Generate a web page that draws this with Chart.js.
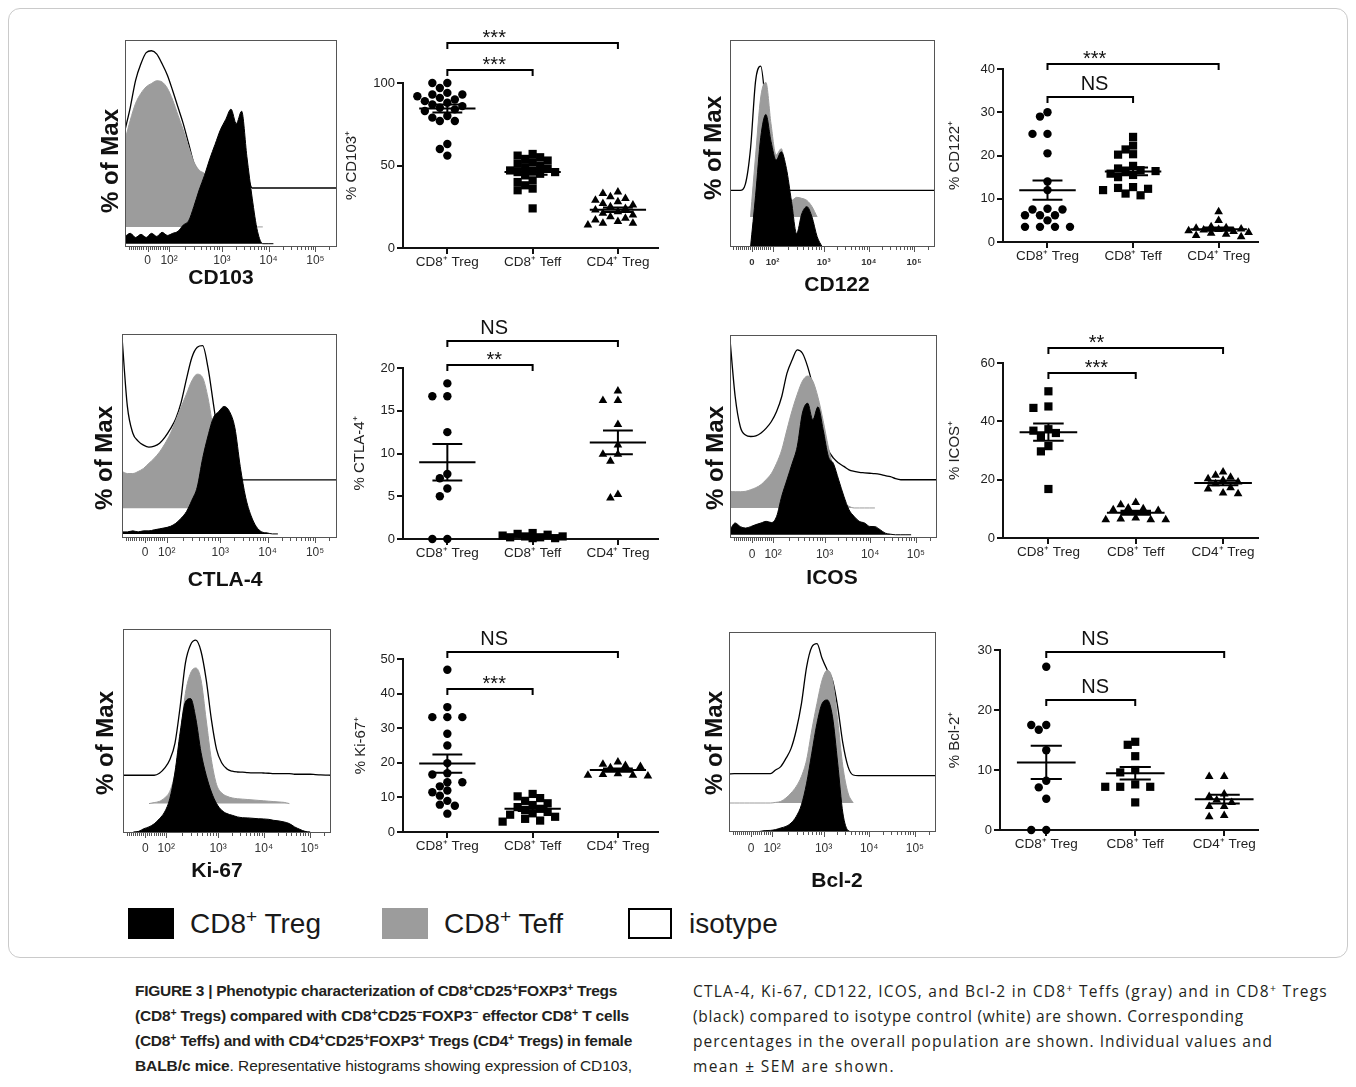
<!DOCTYPE html>
<html>
<head>
<meta charset="utf-8">
<script src="https://cdn.jsdelivr.net/npm/chart.js@4.4.1/dist/chart.umd.min.js"></script>
<style>
  body { margin: 0; width: 1356px; height: 1087px; position: relative; overflow: hidden; background: #fff;
         font-family: "Liberation Sans", Arial, sans-serif; color: #1a1a1a; }
  #frame { position: absolute; left: 8px; top: 8px; width: 1338px; height: 948px; border: 1px solid #cacaca; border-radius: 12px; }
  canvas { position: absolute; }
  .sw { position: absolute; top: 908px; width: 46px; height: 31px; box-sizing: border-box; }
  .leg { position: absolute; top: 906px; font-size: 28px; line-height: 36px; white-space: nowrap; }
  .cap { position: absolute; font-family: "Open Sans", sans-serif; font-size: 15.5px; line-height: 20px; white-space: nowrap; color: #231f20; }
  .cap.lib { font-family: "Liberation Sans", Arial, sans-serif; }
  .b, .cap b { font-family: "Liberation Sans", Arial, sans-serif; font-weight: bold; }
  sup { font-size: 0.68em; line-height: 0; vertical-align: 0.5em; }
</style>
</head>
<body>
<div id="frame"></div>

<div class="sw" style="left:128px;background:#000"></div>
<div class="leg" style="left:190px">CD8<sup>+</sup> Treg</div>
<div class="sw" style="left:382px;background:#9c9c9c"></div>
<div class="leg" style="left:444px">CD8<sup>+</sup> Teff</div>
<div class="sw" style="left:628px;width:44px;border:2px solid #000;background:#fff"></div>
<div class="leg" style="left:689px">isotype</div>

<div class="cap b" style="left:135px;top:981px" data-w="482">FIGURE 3 | Phenotypic characterization of CD8<sup>+</sup>CD25<sup>+</sup>FOXP3<sup>+</sup> Tregs</div>
<div class="cap b" style="left:135px;top:1006px" data-w="494">(CD8<sup>+</sup> Tregs) compared with CD8<sup>+</sup>CD25<sup>−</sup>FOXP3<sup>−</sup> effector CD8<sup>+</sup> T cells</div>
<div class="cap b" style="left:135px;top:1031px" data-w="497">(CD8<sup>+</sup> Teffs) and with CD4<sup>+</sup>CD25<sup>+</sup>FOXP3<sup>+</sup> Tregs (CD4<sup>+</sup> Tregs) in female</div>
<div class="cap lib" style="left:135px;top:1056px" data-w="497"><b>BALB/c mice</b>. Representative histograms showing expression of CD103,</div>
<div class="cap" style="left:693px;top:981px" data-w="635">CTLA-4, Ki-67, CD122, ICOS, and Bcl-2 in CD8<sup>+</sup> Teffs (gray) and in CD8<sup>+</sup> Tregs</div>
<div class="cap" style="left:693px;top:1006px" data-w="551">(black) compared to isotype control (white) are shown. Corresponding</div>
<div class="cap" style="left:693px;top:1031px" data-w="580">percentages in the overall population are shown. Individual values and</div>
<div class="cap" style="left:693px;top:1056px" data-w="202">mean ± SEM are shown.</div>

<script>
// ---- histogram data: height above each curve's own baseline, % of plot height,
// sampled on a fixed channel grid (0..1000 across the plot frame)
const channels = [0, 25, 50, 75, 100, 125, 150, 175, 200, 225, 250, 275, 300, 325, 350, 375, 400, 425, 450, 475,
  500, 525, 550, 575, 600, 625, 650, 675, 700, 725, 750, 775, 800, 825, 850, 875, 900, 925, 950, 975, 1000];
const decadeTicks = [107, 208, 457, 677, 898];
const decadeLabels = ['0', '10²', '10³', '10⁴', '10⁵'];

const cd103HistIso = [28, 39, 52, 60, 65.4, 66.3, 64.7, 60, 54.5, 47, 39, 31, 21.5, 12, 7.8, 6.5, 6, 6, 6, 6, 6, 6, 6, 5.5, 0,
  0, 0, 0, 0, 0, 0, 0, 0, 0, 0, 0, 0, 0, 0, 0, 0];
const cd103HistTeff = [42, 51.6, 59.7, 64.5, 67.7, 69.3, 70.6, 70, 67, 61.3, 54, 46.8, 38.7, 31.4, 27.4, 25.8, 22.6, 19.4,
  14.5, 9.7, 4.8, 1.6, 0, 0, 0, 0, 0];
const cd103HistTreg = [3.5, 5, 3, 4.5, 3, 5, 3.5, 5.5, 4, 5, 6, 9, 11, 18, 26, 33, 41, 48, 55, 60, 65, 58, 64, 42, 22, 6, 0, 0, 0];

const cd122HistIso = [0, 0, 0, 3, 20, 53, 60, 40, 18, 5, 0, 0, 0, 0, 0, 0, 0, 0, 0, 0, 0, 0, 0, 0, 0, 0, 0, 0, 0, 0, 0, 0,
  0, 0, 0, 0, 0, 0, 0, 0, 0];
const cd122HistTeff = [null, null, null, null, 0, 30, 58, 65, 45, 30, 33, 20, 8, 9.5, 9, 8, 5, 0];
const cd122HistTreg = [null, null, null, null, 0, 25, 53, 64, 51, 42, 46, 38, 22, 6.5, 16, 19.5, 14.5, 5, 0];

const ctla4HistIso = [70, 36, 23, 19, 17, 16, 16.5, 18, 21, 25, 30, 38, 49.5, 60, 65, 65.8, 55, 37.4, 19.5, 3.2, 0.8,
  0, 0, 0, 0, 0, 0, 0, 0, 0, 0, 0, 0, 0, 0, 0, 0, 0, 0, 0, 0];
const ctla4HistTeff = [18, 17, 17, 18, 19.5, 22, 24.5, 27.6, 31.7, 36.6, 43, 49.6, 56, 62.5, 65.7, 64, 54, 38, 21.5, 8.5, 0];
const ctla4HistTreg = [1, 1, 1.5, 1, 1.5, 1.5, 2, 2.5, 3, 3.7, 5.2, 7.7, 11, 16.5, 23, 37, 48, 57, 60, 62.5, 60, 52, 33,
  18, 9, 3.5, 1, 0.5, 0, 0];

const icosHistIso = [69, 41, 26, 22, 21.3, 21.6, 23, 25.4, 28.7, 33.6, 41, 52.4, 59, 64, 62.3, 55.7, 46, 34.4, 23, 14.7,
  10.6, 8.2, 6.6, 4.9, 4.1, 3.6, 3.4, 3.2, 3, 2.6, 2, 1.5, 0.5, 0, 0, 0, 0, 0, 0, 0, 0];
const icosHistTeff = [8.2, 8, 8, 8.2, 9, 10, 11.5, 14, 17, 22, 28.6, 38.5, 48, 56, 62.5, 65, 62.5, 54.5, 43, 30, 19, 7.4,
  2.5, 0.8, 0, 0, 0, 0, 0];
const icosHistTreg = [2.5, 5.8, 4, 3.3, 4, 5, 5.8, 6.6, 6, 9, 19, 27, 35, 43.5, 60, 64.8, 56.6, 63, 51.7, 38.6, 35, 27, 19,
  12.3, 9, 6.6, 5.8, 4.1, 4, 2.5, 0.8, 0.3, 0, 0, 0, 0];

const ki67HistIso = [0, 0, 0, 0, 0, 0, 0, 1, 3.5, 7.6, 15.8, 33.8, 55, 64, 66.2, 60.8, 46.9, 27.3, 12.6, 6, 3.1, 2, 1.6,
  1.5, 1.3, 1.2, 1.2, 1.1, 1, 0.8, 0.8, 0.8, 0.8, 0.5, 0.5, 0.5, 0.5, 0.3, 0.2, 0.1, 0];
const ki67HistTeff = [null, null, null, null, null, 0, 0.5, 1.1, 2.8, 6, 15, 33, 54, 64, 66.5, 60.7, 41, 21.5, 9.3, 5.2,
  3.6, 2.8, 2.4, 2.2, 2, 1.8, 1.6, 1.4, 1.2, 1, 0.8, 0.6, 0];
const ki67HistTreg = [null, null, 0, 0.3, 1.6, 2.5, 4, 6.5, 9.8, 16.3, 29.4, 49, 63.7, 65.4, 55.6, 39, 27.8, 19.6, 13.9,
  10.6, 9, 8.2, 7.4, 7, 6.9, 6.7, 6.5, 6.4, 6.2, 5.7, 5.4, 4.9, 4.1, 2.5, 1.3, 0.3, 0];

const bcl2HistIso = [0.8, 1, 1, 1, 1, 1, 1, 1, 1, 2.8, 4.5, 8.6, 13.6, 22.8, 36, 54.4, 64.3, 66, 58.5, 52.7, 47.7, 34.4,
  16.2, 4.5, 0.3, 0, 0, 0, 0, 0, 0, 0, 0, 0, 0, 0, 0, 0, 0, 0, 0];
const bcl2HistTeff = [0, 0, 0, 0, 0, 0, 0, 0, 0, 0.3, 0.8, 2.5, 5, 8.3, 13.3, 21.6, 36.5, 49.8, 61.5, 66.4, 61.5, 41.5,
  18.3, 5, 0];
const bcl2HistTreg = [null, null, null, null, null, 0, 0.3, 0.7, 0.8, 1.2, 2, 2.8, 4.5, 7.8, 13.6, 24.4, 39.4, 54.3, 64.3,
  66, 57.6, 34.4, 9.5, 0.8, 0];

// ---- percentage data (individual animals)
const groupLabels = ['CD8⁺ Treg', 'CD8⁺ Teff', 'CD4⁺ Treg'];

const cd103Treg = [100, 100, 97, 94, 93, 93, 92, 91, 90, 89, 88, 87, 86, 85, 84, 83, 80, 79, 77, 77, 63, 60, 56];
const cd103Teff = [57, 56, 55, 54, 53, 52, 51, 50, 49, 48, 47, 47, 46, 46, 45, 44, 41, 40, 38, 36, 35, 24];
const cd103CD4 = [34, 33, 31, 30, 29, 28, 27, 26, 25, 24, 23, 22, 21, 20, 19, 18, 17, 16, 15, 15, 14];

const cd122Treg = [30, 29, 25, 25, 20.5, 14, 12, 7.5, 7.5, 7.7, 6.2, 6.2, 6.2, 5, 3.5, 3.5, 3.5, 3.5];
const cd122Teff = [24.3, 22.3, 21.4, 20.3, 20.2, 17.6, 17.0, 16.6, 16.4, 16.2, 15.8, 15.5, 15.0, 12.7, 12.5, 12.3, 12.0, 11.2, 10.8];
const cd122CD4 = [7.0, 5.0, 3.5, 3.3, 3.2, 3.0, 2.9, 2.8, 2.6, 2.4, 2.2, 2.0, 1.8, 1.5, 1.2];

const ctla4Treg = [18.2, 16.7, 16.7, 12.5, 7.6, 7.1, 5.9, 5.0, 0, 0];
const ctla4Teff = [0.7, 0.6, 0.5, 0.4, 0.3, 0.3, 0.2, 0.2, 0.1, 0.1];
const ctla4CD4 = [17.3, 16.2, 16.2, 13.4, 11.0, 9.9, 9.9, 9.1, 5.2, 4.8];

const icosTreg = [50.3, 45.1, 44.6, 37.3, 36.8, 36.0, 34.9, 31.5, 29.7, 16.8];
const icosTeff = [12.2, 11.4, 10.3, 10.0, 9.7, 9.4, 6.9, 6.3, 6.3, 6.3, 6.5];
const icosCD4 = [22.6, 21.5, 20.8, 20.3, 19.8, 19.2, 18.6, 17.2, 16.8, 15.4, 15.2];

const ki67Treg = [46.9, 36.1, 33.2, 33.2, 33.2, 28.4, 25, 19.9, 17, 16.6, 14.4, 14.4, 13.2, 12, 11.5, 10.5, 9, 7.9, 7.6, 5.3];
const ki67Teff = [11.0, 10.3, 9.8, 9.0, 8.3, 7.8, 7.2, 6.7, 6.3, 5.8, 5.4, 5.0, 4.4, 3.8, 3.3, 3.0];
const ki67CD4 = [20.2, 19.6, 19.2, 18.9, 18.6, 16.8, 16.4, 16.2, 16.6, 16.4];

const bcl2Treg = [27.2, 17.5, 17.5, 16.7, 13.3, 8.2, 7.1, 5.2, 0, 0];
const bcl2Teff = [14.7, 14.2, 12.3, 10.0, 9.6, 7.6, 7.2, 7.2, 7.2, 4.6];
const bcl2CD4 = [8.9, 8.9, 6.0, 5.6, 5.0, 4.6, 3.9, 3.9, 2.4, 2.2];

// ---- layout
const FONT = '"Liberation Sans", Arial, sans-serif';
Chart.defaults.font.family = FONT;

const histPanels = [
  { frame: [125, 40, 337, 247], title: 'CD103', titleAt: [221, 278], yTitleAt: [111.5, 161], tickPad: 6,
    base: [1.6, 9.7, 28.5], series: [cd103HistTreg, cd103HistTeff, cd103HistIso] },
  { frame: [730, 40, 935, 247], title: 'CD122', titleAt: [837, 285], yTitleAt: [714, 148], tickPad: 10, small: true,
    base: [0, 14.5, 27.4], series: [cd122HistTreg, cd122HistTeff, cd122HistIso] },
  { frame: [122, 334, 337, 538], title: 'CTLA-4', titleAt: [225, 580], yTitleAt: [105, 458], tickPad: 7,
    base: [2, 14.6, 28.5], series: [ctla4HistTreg, ctla4HistTeff, ctla4HistIso] },
  { frame: [730, 335, 937, 538], title: 'ICOS', titleAt: [832, 578], yTitleAt: [716, 458], tickPad: 9,
    base: [1.6, 14.8, 28.7], series: [icosHistTreg, icosHistTeff, icosHistIso] },
  { frame: [123, 629, 331, 833], title: 'Ki-67', titleAt: [217, 871], yTitleAt: [106.5, 743], tickPad: 8,
    base: [0.5, 14.4, 28.3], series: [ki67HistTreg, ki67HistTeff, ki67HistIso] },
  { frame: [729, 632, 936, 832], title: 'Bcl-2', titleAt: [837, 881], yTitleAt: [715, 743], tickPad: 9,
    base: [0, 14.5, 28.2], series: [bcl2HistTreg, bcl2HistTeff, bcl2HistIso] },
];

const scatterPanels = [
  { area: [403, 83, 658, 248], yMax: 100, yStep: 50, xMax: 2.47, yTitle: '% CD103⁺', titlePad: 8,
    shapes: ['circle', 'rect', 'triangle'], groups: [cd103Treg, cd103Teff, cd103CD4],
    brackets: [{ to: 1, y: 108, label: '***' }, { to: 2, y: 124, label: '***' }] },
  { area: [1003, 69, 1258, 242], yMax: 40, yStep: 10, xMax: 2.46, yTitle: '% CD122⁺', titlePad: 10.6,
    shapes: ['circle', 'rect', 'triangle'], groups: [cd122Treg, cd122Teff, cd122CD4],
    brackets: [{ to: 1, y: 33.6, label: 'NS' }, { to: 2, y: 41.1, label: '***' }] },
  { area: [403, 368, 658, 539], yMax: 20, yStep: 5, xMax: 2.47, yTitle: '% CTLA-4⁺', titlePad: 16,
    shapes: ['circle', 'rect', 'triangle'], groups: [ctla4Treg, ctla4Teff, ctla4CD4],
    brackets: [{ to: 1, y: 20.4, label: '**' }, { to: 2, y: 23.1, label: 'NS' }] },
  { area: [1003, 363, 1258, 538], yMax: 60, yStep: 20, xMax: 2.40, yTitle: '% ICOS⁺', titlePad: 10.6,
    shapes: ['rect', 'triangle', 'triangle'], groups: [icosTreg, icosTeff, icosCD4],
    brackets: [{ to: 1, y: 56.6, label: '***' }, { to: 2, y: 65.1, label: '**' }] },
  { area: [403, 659, 658, 832], yMax: 50, yStep: 10, xMax: 2.47, yTitle: '% Ki-67⁺', titlePad: 17,
    shapes: ['circle', 'rect', 'triangle'], groups: [ki67Treg, ki67Teff, ki67CD4],
    brackets: [{ to: 1, y: 41.3, label: '***' }, { to: 2, y: 52, label: 'NS' }] },
  { area: [1000, 650, 1258, 830], yMax: 30, yStep: 10, xMax: 2.38, yTitle: '% Bcl-2⁺', titlePad: 13.6,
    shapes: ['circle', 'rect', 'triangle'], groups: [bcl2Treg, bcl2Teff, bcl2CD4],
    brackets: [{ to: 1, y: 21.7, label: 'NS' }, { to: 2, y: 29.6, label: 'NS' }] },
];

// minor ticks of the flow axis: linear part around 0, then log decades
const minorTicks = [];
for (let k = 1; k < 10; k++) minorTicks.push(107 - 10 * k, 107 + 10 * k);
[[208, 457], [457, 677], [677, 898], [898, 1119]].forEach(([a, b]) => {
  for (let k = 2; k < 10; k++) {
    const c = a + (b - a) * Math.log10(k);
    if (c < 1000) minorTicks.push(c);
  }
});

function addCanvas(left, top, w, h) {
  const cv = document.createElement('canvas');
  cv.width = w;
  cv.height = h;
  cv.style.left = left + 'px';
  cv.style.top = top + 'px';
  document.body.appendChild(cv);
  return cv;
}

function histChart(p) {
  const [L, T, R, B] = p.frame;
  const ox = L - 45, oy = T - 10;
  const cv = addCanvas(ox, oy, R - L + 55, B - T + 70);
  const fills = ['#000', '#9c9c9c', null];
  const datasets = p.series.map((s, k) => ({
    data: s.map((v, i) => ({ x: channels[i], y: v == null ? null : v + p.base[k] })),
    borderColor: k === 1 ? '#9c9c9c' : '#000',
    borderWidth: k === 2 ? 1.3 : 1,
    backgroundColor: fills[k] || 'transparent',
    fill: k === 2 ? false : { value: p.base[k] },
    pointRadius: 0,
    cubicInterpolationMode: 'monotone',
    spanGaps: false,
  }));
  const decor = {
    id: 'histDecor',
    afterDraw(chart) {
      const { ctx, chartArea: a, scales: { x } } = chart;
      ctx.save();
      ctx.strokeStyle = '#555';
      ctx.lineWidth = 1;
      ctx.strokeRect(a.left + 0.5, a.top + 0.5, a.right - a.left - 1, a.bottom - a.top - 1);
      ctx.beginPath();
      decadeTicks.forEach((v) => {
        const px = Math.round(x.getPixelForValue(v)) + 0.5;
        ctx.moveTo(px, a.bottom);
        ctx.lineTo(px, a.bottom + 5);
      });
      minorTicks.forEach((v) => {
        const px = Math.round(x.getPixelForValue(v)) + 0.5;
        ctx.moveTo(px, a.bottom);
        ctx.lineTo(px, a.bottom + 3);
      });
      ctx.stroke();
      ctx.fillStyle = '#111';
      ctx.textAlign = 'center';
      ctx.textBaseline = 'middle';
      ctx.font = 'bold 21px ' + FONT;
      ctx.fillText(p.title, p.titleAt[0] - ox, p.titleAt[1] - oy);
      ctx.translate(p.yTitleAt[0] - ox, p.yTitleAt[1] - oy);
      ctx.rotate(-Math.PI / 2);
      ctx.font = 'bold 24px ' + FONT;
      ctx.fillText('% of Max', 0, 0);
      ctx.restore();
    },
  };
  new Chart(cv, {
    type: 'line',
    data: { datasets },
    options: {
      responsive: false,
      animation: false,
      events: [],
      layout: { padding: { left: 45, top: 10, right: 10, bottom: 40 } },
      plugins: { legend: { display: false }, tooltip: { enabled: false } },
      scales: {
        x: {
          type: 'linear', min: 0, max: 1000,
          afterBuildTicks: (s) => { s.ticks = decadeTicks.map((v) => ({ value: v })); },
          afterFit: (s) => { s.height = 20; },
          grid: { display: false, drawTicks: false },
          border: { display: false },
          ticks: {
            callback: (v, i) => decadeLabels[i],
            font: p.small ? { size: 9.5, weight: 'bold' } : { size: 12 },
            color: '#333', padding: p.tickPad, maxRotation: 0, autoSkip: false,
          },
        },
        y: { display: false, min: 0, max: 100 },
      },
    },
    plugins: [decor],
  });
}

// spread points of similar value sideways, like a column scatter plot;
// the spread is capped, crowded points may overlap a little
function swarm(values, pxPerUnit) {
  const order = values.map((_, i) => i).sort((a, b) => values[b] - values[a]);
  const placed = [];
  const out = [];
  order.forEach((i) => {
    const py = values[i] * pxPerUnit;
    let best = 0, bestD = -1;
    for (let k = 0; k < 9; k++) {
      const px = (k % 2 ? -1 : 1) * Math.ceil(k / 2) * 7.5;
      const d = placed.reduce((m, q) => Math.min(m, Math.hypot(q.x - px, q.y - py)), Infinity);
      if (d >= 8) { best = px; break; }
      if (d > bestD) { bestD = d; best = px; }
    }
    placed.push({ x: best, y: py });
    out[i] = best;
  });
  return out;
}

const radius = { circle: 4.2, rect: 5.8, triangle: 5 };

function scatterChart(p) {
  const [L, T, R, B] = p.area;
  const ox = L - 68, oy = T - 75;
  const cv = addCanvas(ox, oy, R - L + 74, B - T + 107);
  const pxPerUnit = (B - T) / p.yMax;
  const pxPerCat = (R - L) / (p.xMax + 0.52);

  const meanBars = [];
  p.groups.forEach((vals, g) => {
    const n = vals.length;
    const m = vals.reduce((a, b) => a + b, 0) / n;
    const sd = Math.sqrt(vals.reduce((a, b) => a + (b - m) ** 2, 0) / (n - 1));
    const se = sd / Math.sqrt(n);
    meanBars.push(
      { x: g - 0.33, y: m }, { x: g + 0.33, y: m }, { x: g, y: null },
      { x: g - 0.175, y: m + se }, { x: g + 0.175, y: m + se }, { x: g, y: null },
      { x: g - 0.175, y: m - se }, { x: g + 0.175, y: m - se }, { x: g, y: null },
      { x: g, y: m + se }, { x: g, y: m - se }, { x: g, y: null });
  });

  const datasets = [{
    data: meanBars, showLine: true, spanGaps: false, borderColor: '#000', borderWidth: 2,
    pointRadius: 0, fill: false, clip: false,
  }];
  p.groups.forEach((vals, g) => {
    const offs = swarm(vals, pxPerUnit);
    datasets.push({
      data: vals.map((v, i) => ({ x: g + offs[i] / pxPerCat, y: v })),
      pointStyle: p.shapes[g],
      pointRadius: radius[p.shapes[g]],
      pointBackgroundColor: '#000',
      pointBorderColor: '#000',
      pointBorderWidth: 0,
      clip: false,
    });
  });

  const brackets = {
    id: 'brackets',
    afterDraw(chart) {
      const { ctx, scales: { x, y } } = chart;
      ctx.save();
      ctx.strokeStyle = '#000';
      ctx.fillStyle = '#111';
      ctx.lineWidth = 2;
      ctx.textAlign = 'center';
      ctx.textBaseline = 'alphabetic';
      p.brackets.forEach((b) => {
        const x0 = x.getPixelForValue(0), x1 = x.getPixelForValue(b.to), py = Math.round(y.getPixelForValue(b.y));
        ctx.beginPath();
        ctx.moveTo(x0, py + 6);
        ctx.lineTo(x0, py);
        ctx.lineTo(x1, py);
        ctx.lineTo(x1, py + 6);
        ctx.stroke();
        ctx.font = '20px ' + FONT;
        const lx = x.getPixelForValue(0.55);
        ctx.fillText(b.label, lx, b.label === 'NS' ? py - 7 : py + 1);
      });
      ctx.restore();
    },
  };

  const axisGrid = { drawOnChartArea: false, tickLength: 6, color: '#111', lineWidth: 2 };
  new Chart(cv, {
    type: 'scatter',
    data: { datasets },
    options: {
      responsive: false,
      animation: false,
      events: [],
      layout: { padding: { left: 0, top: 75, right: 6, bottom: 2 } },
      plugins: { legend: { display: false }, tooltip: { enabled: false } },
      scales: {
        x: {
          type: 'linear', min: -0.52, max: p.xMax,
          afterBuildTicks: (s) => { s.ticks = groupLabels.map((_, i) => ({ value: i })); },
          afterFit: (s) => { s.height = 30; },
          grid: axisGrid,
          border: { color: '#111', width: 2 },
          ticks: { callback: (v, i) => groupLabels[i], font: { size: 13.5 }, color: '#222', padding: 0,
                   maxRotation: 0, autoSkip: false },
        },
        y: {
          min: 0, max: p.yMax,
          afterFit: (s) => { s.width = 68; },
          grid: axisGrid,
          border: { color: '#111', width: 2 },
          ticks: { stepSize: p.yStep, font: { size: 13 }, color: '#222', padding: 2 },
          title: { display: true, text: p.yTitle, font: { size: 15 }, color: '#222',
                   padding: { top: p.titlePad, bottom: 0 } },
        },
      },
    },
    plugins: [brackets],
  });
}

histPanels.forEach(histChart);
scatterPanels.forEach(scatterChart);

// stretch caption lines to the widths they have in the printed figure
document.querySelectorAll('.cap').forEach((el) => {
  const target = +el.dataset.w;
  const n = el.textContent.length;
  const w = el.getBoundingClientRect().width;
  el.style.letterSpacing = ((target - w) / n).toFixed(3) + 'px';
});
</script>
</body>
</html>
